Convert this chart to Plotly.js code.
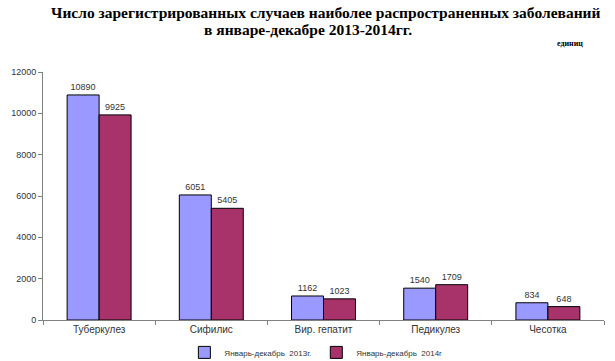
<!DOCTYPE html>
<html><head><meta charset="utf-8">
<script src="https://cdn.plot.ly/plotly-3.0.1.min.js"></script>
<style>body{margin:0;background:#fff}#c{width:615px;height:361px}</style>
</head><body><div id="c"></div>
<script>
var categories = ["Туберкулез", "Сифилис", "Вир. гепатит", "Педикулез", "Чесотка"];
var values2013 = [10890, 6051, 1162, 1540, 834];
var values2014 = [9925, 5405, 1023, 1709, 648];
var seriesNames = ["Январь-декабрь  2013г.", "Январь-декабрь  2014г"];
var yTicks = [0, 2000, 4000, 6000, 8000, 10000, 12000];
var titleLines = ["Число зарегистрированных случаев наиболее распространенных заболеваний", "в январе-декабре 2013-2014гг."];
var unitText = "единиц";

function tr(vals, name, color) {
  return {
    type: "bar", x: categories, y: vals, name: name,
    marker: {color: color, line: {color: "#000000", width: 1}},
    text: vals.map(String), textposition: "outside", cliponaxis: false,
    textfont: {family: "Arial, Liberation Sans", size: 9, color: "#333"}
  };
}
var data = [tr(values2013, seriesNames[0], "#9999FF"), tr(values2014, seriesNames[1], "#A8326A")];
var serif = "Liberation Serif, Times New Roman, serif";
var layout = {
  width: 615, height: 361,
  margin: {l: 43, r: 11, t: 72, b: 41, autoexpand: false},
  paper_bgcolor: "#fff", plot_bgcolor: "#fff",
  bargap: 0.43, bargroupgap: 0,
  showlegend: true,
  legend: {orientation: "h", x: 0.252, xanchor: "left", yref: "container", y: 0.064, yanchor: "top",
    font: {family: "Arial, Liberation Sans", size: 8, color: "#333"}, itemwidth: 30, tracegroupgap: 0},
  xaxis: {type: "category", showline: true, linecolor: "#808080", ticks: "outside", tickson: "boundaries",
    ticklen: 4, tickcolor: "#808080", showgrid: false,
    tickfont: {family: "Arial, Liberation Sans", size: 10, color: "#333"}},
  yaxis: {range: [0, 12000], tickvals: yTicks, ticktext: yTicks.map(String), showline: true, linecolor: "#808080",
    ticks: "outside", ticklen: 4, tickcolor: "#808080", showgrid: false, zeroline: false,
    tickfont: {family: "Arial, Liberation Sans", size: 9, color: "#333"}},
  annotations: [
    {text: "<b>" + titleLines[0] + "</b>", xref: "paper", yref: "paper", x: 0.504, y: 1.238, xanchor: "center", yanchor: "middle",
      showarrow: false, font: {family: serif, size: 15.5, color: "#000"}},
    {text: "<b>" + titleLines[1] + "</b>", xref: "paper", yref: "paper", x: 0.472, y: 1.170, xanchor: "center", yanchor: "middle",
      showarrow: false, font: {family: serif, size: 15.5, color: "#000"}},
    {text: "<b>" + unitText + "</b>", xref: "paper", yref: "paper", x: 0.939, y: 1.113, xanchor: "center", yanchor: "middle",
      showarrow: false, font: {family: serif, size: 8, color: "#000"}}
  ]
};
Plotly.newPlot("c", data, layout, {displayModeBar: false, staticPlot: true});
</script></body></html>
